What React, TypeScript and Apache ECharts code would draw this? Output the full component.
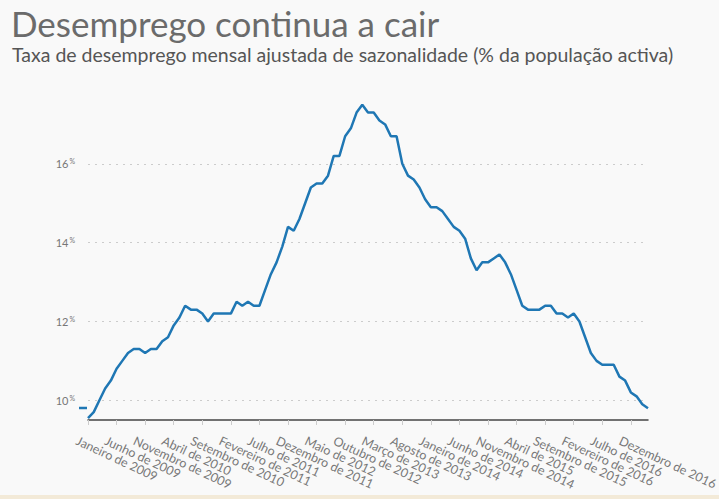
import React, { useEffect, useRef } from "react";
import * as echarts from "echarts";

const monthNames = [
  "Janeiro", "Fevereiro", "Março", "Abril", "Maio", "Junho",
  "Julho", "Agosto", "Setembro", "Outubro", "Novembro", "Dezembro",
];
const years = [2009, 2010, 2011, 2012, 2013, 2014, 2015, 2016, 2017];
const monthsIn2017 = 3;
const labelEvery = 5;

const categories: string[] = [];
years.forEach((y) => {
  const n = y === 2017 ? monthsIn2017 : 12;
  for (let m = 0; m < n; m++) categories.push(`${monthNames[m]} de ${y}`);
});

const unemployment = [
  9.55, 9.7, 10.0, 10.3, 10.5, 10.8, 11.0, 11.2, 11.3, 11.3, 11.2, 11.3,
  11.3, 11.5, 11.6, 11.9, 12.1, 12.4, 12.3, 12.3, 12.2, 12.0, 12.2, 12.2,
  12.2, 12.2, 12.5, 12.4, 12.5, 12.4, 12.4, 12.8, 13.2, 13.5, 13.9, 14.4,
  14.3, 14.6, 15.0, 15.4, 15.5, 15.5, 15.7, 16.2, 16.2, 16.7, 16.9, 17.3,
  17.5, 17.3, 17.3, 17.1, 17.0, 16.7, 16.7, 16.0, 15.7, 15.6, 15.4, 15.1,
  14.9, 14.9, 14.8, 14.6, 14.4, 14.3, 14.1, 13.6, 13.3, 13.5, 13.5, 13.6,
  13.7, 13.5, 13.2, 12.8, 12.4, 12.3, 12.3, 12.3, 12.4, 12.4, 12.2, 12.2,
  12.1, 12.2, 12.0, 11.6, 11.2, 11.0, 10.9, 10.9, 10.9, 10.6, 10.5, 10.2,
  10.1, 9.9, 9.8,
];

const yTicks = [10, 12, 14, 16];

const titleText = "Desemprego continua a cair";
const subtitleText =
  "Taxa de desemprego mensal ajustada de sazonalidade (% da população activa)";

const LINE_COLOR = "#1f77b4";
const FONT = "Lato, 'Noto Sans', sans-serif";

export default function App() {
  const ref = useRef<HTMLDivElement>(null);

  useEffect(() => {
    document.body.style.margin = "0";
    if (!ref.current) return;
    const chart = echarts.init(ref.current, undefined, { renderer: "svg" });
    chart.setOption({
      animation: false,
      backgroundColor: "#f9f9f9",
      textStyle: { fontFamily: FONT },
      title: [
        {
          text: titleText,
          left: 11,
          top: 5,
          padding: 0,
          textStyle: {
            fontFamily: FONT,
            fontSize: 35,
            lineHeight: 35,
            fontWeight: "normal",
            color: "#6b6b6b",
          },
        },
        {
          text: subtitleText,
          left: 12,
          top: 44,
          padding: 0,
          textStyle: {
            fontFamily: FONT,
            fontSize: 19.5,
            lineHeight: 20,
            fontWeight: "normal",
            color: "#555",
          },
        },
      ],
      grid: [
        { left: 88, right: 71, top: 85, bottom: 79, containLabel: false, outerBoundsMode: "none" },
        // label-only grid, shifted left so the slanted month labels start just before each tick
        { left: 77, right: 82, top: 85, bottom: 79, containLabel: false, outerBoundsMode: "none" },
      ],
      xAxis: [
        {
          type: "category",
          gridIndex: 0,
          data: categories,
          boundaryGap: false,
          axisLine: { lineStyle: { color: "#444", width: 1.5 } },
          axisTick: { show: true, interval: labelEvery - 1, length: 5, lineStyle: { color: "#ccc" } },
          axisLabel: { show: false },
          splitLine: { show: false },
        },
        {
          type: "category",
          gridIndex: 1,
          data: categories,
          boundaryGap: false,
          axisLine: { show: false },
          axisTick: { show: false },
          axisLabel: {
            interval: 0,
            formatter: (v: string, i: number) => (i % labelEvery === 0 ? v : ""),
            rotate: -25,
            color: "#777",
            fontSize: 12.5,
            lineHeight: 12,
            fontFamily: FONT,
            margin: 20,
            hideOverlap: false,
          },
          splitLine: { show: false },
        },
      ],
      yAxis: [
        {
          type: "value",
          gridIndex: 0,
          min: 9.5,
          max: 18,
          axisLine: { show: false },
          axisTick: { show: false, customValues: yTicks },
          axisLabel: {
            customValues: yTicks,
            margin: 13,
            color: "#777",
            formatter: (v: number) => `{n|${v}}{p|%}`,
            rich: {
              n: { fontSize: 11, color: "#777", fontFamily: FONT },
              p: { fontSize: 7, color: "#777", fontFamily: FONT, padding: [0, 0, 5, 1] },
            },
          },
          splitLine: { show: true, lineStyle: { color: "#ccc", type: [2, 5], width: 1 } },
        },
        {
          type: "value",
          gridIndex: 1,
          min: 9.5,
          max: 18,
          show: false,
        },
      ],
      series: [
        {
          type: "line",
          xAxisIndex: 0,
          yAxisIndex: 0,
          data: unemployment,
          showSymbol: false,
          symbol: "none",
          lineStyle: { color: LINE_COLOR, width: 2.5 },
          itemStyle: { color: LINE_COLOR },
        },
      ],
      graphic: [
        {
          type: "line",
          shape: { x1: 79, y1: 408, x2: 87, y2: 408 },
          style: { stroke: LINE_COLOR, lineWidth: 2.5 },
        },
        {
          type: "rect",
          shape: { x: 0, y: 495, width: 719, height: 4 },
          style: { fill: "#f3ead8" },
        },
      ],
    });
    return () => chart.dispose();
  }, []);

  return <div ref={ref} style={{ width: 719, height: 499 }} />;
}
